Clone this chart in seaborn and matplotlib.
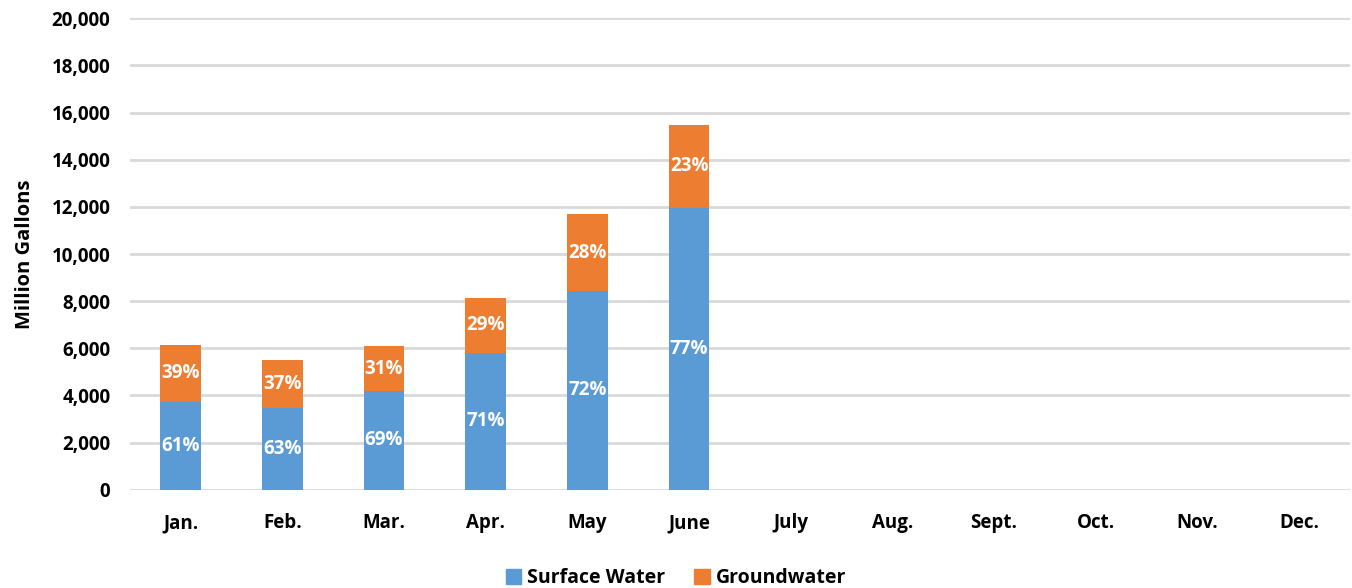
import numpy as np
import pandas as pd
import seaborn as sns
import matplotlib.pyplot as plt
from matplotlib.patches import Patch

# months on the x axis (only Jan-June have data)
months = ["Jan.", "Feb.", "Mar.", "Apr.", "May", "June",
          "July", "Aug.", "Sept.", "Oct.", "Nov.", "Dec."]

# million gallons
surface_water = [3730, 3480, 4200, 5815, 8426, 11941]
groundwater = [2430, 2045, 1880, 2330, 3275, 3545]

blue = "#5b9bd5"
orange = "#ed7d31"

df = pd.DataFrame({
    "month": months[:len(surface_water)],
    "surface": surface_water,
    "ground": groundwater,
})
df["total"] = df["surface"] + df["ground"]

sns.set_style("white")
plt.rcParams["font.family"] = ["Open Sans", "DejaVu Sans"]
plt.rcParams["font.weight"] = "bold"
plt.rcParams["text.color"] = "black"
plt.rcParams["axes.labelcolor"] = "black"
plt.rcParams["xtick.color"] = "black"
plt.rcParams["ytick.color"] = "black"

fig = plt.figure(figsize=(13.52, 5.88), dpi=100)
ax = fig.add_axes([0.096, 0.167, 0.9025, 0.802])

# stacked look: total in orange, surface drawn over it in blue
sns.barplot(data=df, x="month", y="total", order=months, color=orange,
            width=0.4, saturation=1, linewidth=0, ax=ax, zorder=3)
sns.barplot(data=df, x="month", y="surface", order=months, color=blue,
            width=0.4, saturation=1, linewidth=0, ax=ax, zorder=3)

# percentage labels in the middle of each segment
for i, row in df.iterrows():
    s_pct = round(100 * row["surface"] / row["total"])
    g_pct = 100 - s_pct
    ax.text(i, row["surface"] / 2, f"{s_pct}%", ha="center", va="center",
            color="white", fontsize=13.5, fontweight="bold", zorder=4)
    ax.text(i, row["surface"] + row["ground"] / 2, f"{g_pct}%", ha="center",
            va="center", color="white", fontsize=13.5, fontweight="bold", zorder=4)

ax.set_ylim(0, 20000)
ax.set_xlim(-0.5, len(months) - 0.5)
ax.set_yticks(np.arange(0, 20001, 2000))
ax.yaxis.set_major_formatter(plt.FuncFormatter(lambda v, p: f"{int(v):,}"))
ax.grid(axis="y", color="#d9d9d9", linewidth=2, zorder=0)
ax.set_axisbelow(True)
for s in ax.spines.values():
    s.set_visible(False)

ax.tick_params(axis="x", length=0, pad=17, labelsize=13.5, labelcolor="black")
ax.tick_params(axis="y", length=0, pad=14, labelsize=13.5, labelcolor="black")
for lbl in ax.get_xticklabels() + ax.get_yticklabels():
    lbl.set_fontweight("bold")

ax.set_xlabel("")
ax.set_ylabel("Million Gallons", fontsize=14.5, fontweight="bold", labelpad=12,
              color="black")

handles = [Patch(color=blue, label="Surface Water"),
           Patch(color=orange, label="Groundwater")]
fig.legend(handles=handles, loc="lower center", ncol=2, frameon=False,
           bbox_to_anchor=(0.5, -0.03), prop={"size": 14, "weight": "bold"},
           handlelength=0.8, handleheight=0.8, handletextpad=0.3, columnspacing=1.5)

fig.savefig("out.png", dpi=100)
